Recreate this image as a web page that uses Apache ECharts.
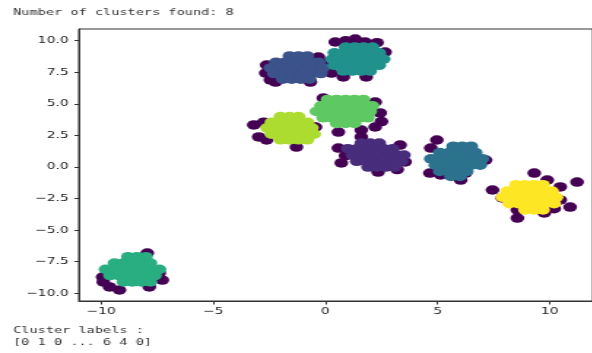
<!DOCTYPE html>
<html>
<head>
<meta charset="utf-8">
<script src="https://cdn.jsdelivr.net/npm/echarts@6/dist/echarts.min.js"></script>
<style>
  html, body { margin: 0; padding: 0; background: #fff; overflow: hidden; }
  /* the reference figure is stretched sideways, so draw narrow and widen */
  #chart { width: 406px; height: 353px; transform: scaleX(1.46); transform-origin: 0 0; }
</style>
</head>
<body>
<div id="chart"></div>
<script>
const xTicks = [-10, -5, 0, 5, 10];
const yTicks = [-10, -7.5, -5, -2.5, 0, 2.5, 5, 7.5, 10];

const titleText = 'Number of clusters found: 8';
const footerLines = ['Cluster labels :', '[0 1 0 ... 6 4 0]'];

// cluster members
const clusterA = [
  [1.6, 1.9], [2.0, 1.9], [2.4, 1.9],
  [1.0, 1.45], [1.4, 1.45], [1.8, 1.45], [2.2, 1.45], [2.6, 1.45], [3.0, 1.45],
  [1.2, 0.95], [1.6, 0.95], [2.0, 0.95], [2.4, 0.95], [2.8, 0.95], [3.2, 0.95], [3.5, 0.95],
  [1.4, 0.45], [1.8, 0.45], [2.2, 0.45], [2.6, 0.45], [3.0, 0.45], [3.4, 0.45],
  [1.9, 0.0], [2.3, 0.0], [2.7, 0.0], [3.1, 0.0]
];
const clusterB = [
  [-1.6, 8.8], [-1.2, 8.8], [-0.8, 8.8],
  [-2.2, 8.3], [-1.8, 8.3], [-1.4, 8.3], [-1.0, 8.3], [-0.6, 8.3], [-0.3, 8.3],
  [-2.45, 7.85], [-2.0, 7.85], [-1.6, 7.85], [-1.2, 7.85], [-0.8, 7.85], [-0.4, 7.85], [-0.1, 7.85],
  [-2.3, 7.4], [-1.8, 7.4], [-1.4, 7.4], [-1.0, 7.4], [-0.6, 7.4], [-0.2, 7.4],
  [-1.9, 6.95], [-1.5, 6.95], [-1.1, 6.95], [-0.7, 6.95]
];
const clusterC = [
  [5.7, 1.65], [6.1, 1.65], [6.5, 1.65],
  [5.1, 1.15], [5.5, 1.15], [5.9, 1.15], [6.3, 1.15], [6.7, 1.15],
  [4.7, 0.65], [5.1, 0.65], [5.5, 0.65], [5.9, 0.65], [6.3, 0.65], [6.7, 0.65], [7.0, 0.65],
  [4.9, 0.15], [5.3, 0.15], [5.7, 0.15], [6.1, 0.15], [6.5, 0.15], [6.9, 0.15],
  [5.1, -0.35], [5.5, -0.35], [5.9, -0.35], [6.3, -0.35],
  [5.6, -0.75], [6.0, -0.75]
];
const clusterD = [
  [0.9, 9.5], [1.3, 9.5], [1.7, 9.5], [2.1, 9.5],
  [0.4, 9.05], [0.8, 9.05], [1.2, 9.05], [1.6, 9.05], [2.0, 9.05], [2.4, 9.05],
  [0.3, 8.55], [0.6, 8.55], [1.0, 8.55], [1.4, 8.55], [1.8, 8.55], [2.2, 8.55], [2.6, 8.55],
  [0.4, 8.05], [0.8, 8.05], [1.2, 8.05], [1.6, 8.05], [2.0, 8.05], [2.4, 8.05],
  [0.8, 7.6], [1.2, 7.6], [1.6, 7.6], [2.0, 7.6]
];
const clusterE = [
  [-8.8, -7.1], [-8.4, -7.1], [-8.0, -7.1],
  [-9.4, -7.6], [-9.0, -7.6], [-8.6, -7.6], [-8.2, -7.6], [-7.8, -7.6],
  [-9.8, -8.1], [-9.4, -8.1], [-9.0, -8.1], [-8.6, -8.1], [-8.2, -8.1], [-7.8, -8.1], [-7.4, -8.1],
  [-9.6, -8.6], [-9.2, -8.6], [-8.8, -8.6], [-8.4, -8.6], [-8.0, -8.6], [-7.6, -8.6],
  [-9.0, -9.1], [-8.6, -9.1], [-8.2, -9.1], [-7.8, -9.1]
];
const clusterF = [
  [0.1, 5.35], [0.5, 5.35], [0.9, 5.35], [1.3, 5.35], [1.7, 5.35],
  [-0.2, 4.85], [0.2, 4.85], [0.6, 4.85], [1.0, 4.85], [1.4, 4.85], [1.8, 4.85], [2.1, 4.85],
  [-0.4, 4.4], [0.0, 4.4], [0.4, 4.4], [0.8, 4.4], [1.2, 4.4], [1.6, 4.4], [2.0, 4.4],
  [-0.1, 3.9], [0.3, 3.9], [0.7, 3.9], [1.1, 3.9], [1.5, 3.9], [1.9, 3.9],
  [0.5, 3.45], [0.9, 3.45], [1.3, 3.45]
];
const clusterG = [
  [-2.0, 4.0], [-1.6, 4.0], [-1.2, 4.0],
  [-2.4, 3.55], [-2.0, 3.55], [-1.6, 3.55], [-1.2, 3.55], [-0.8, 3.55],
  [-2.6, 3.1], [-2.2, 3.1], [-1.8, 3.1], [-1.4, 3.1], [-1.0, 3.1], [-0.6, 3.1],
  [-2.4, 2.6], [-2.0, 2.6], [-1.6, 2.6], [-1.2, 2.6], [-0.8, 2.6], [-0.5, 2.6],
  [-2.0, 2.15], [-1.6, 2.15], [-1.2, 2.15], [-0.8, 2.15]
];
const clusterH = [
  [8.5, -1.4], [8.9, -1.4], [9.3, -1.4], [9.7, -1.4],
  [8.1, -1.9], [8.5, -1.9], [8.9, -1.9], [9.3, -1.9], [9.7, -1.9], [10.1, -1.9],
  [7.9, -2.4], [8.3, -2.4], [8.7, -2.4], [9.1, -2.4], [9.5, -2.4], [9.9, -2.4], [10.3, -2.4],
  [8.2, -2.9], [8.6, -2.9], [9.0, -2.9], [9.4, -2.9], [9.8, -2.9], [10.2, -2.9],
  [8.9, -3.4], [9.3, -3.4], [9.7, -3.4]
];

// points labelled -1 (noise)
const noisePoints = [
  [-2.62, 8.08], [-2.66, 7.44], [-2.22, 6.73], [-0.67, 6.73], [-0.31, 8.71], [0.0, 8.23], [-2.45, 6.9],
  [0.44, 9.9], [1.33, 10.13], [1.77, 9.9], [2.66, 9.1], [0.27, 7.44], [0.8, 7.13], [1.82, 7.13], [0.9, 10.0], [2.3, 9.85],
  [-0.09, 5.46], [2.22, 5.15], [2.44, 4.28], [2.22, 3.17], [1.6, 2.93], [0.58, 2.77], [-0.44, 3.17], [2.5, 3.6],
  [-3.19, 3.33], [-2.97, 2.38], [-2.62, 2.14], [-1.29, 1.58], [-0.53, 3.17], [-2.75, 3.55],
  [0.58, 1.5], [0.71, 0.32], [2.35, -0.4], [3.33, 1.74], [1.6, 2.38], [3.55, 0.4], [0.9, 0.9], [3.2, -0.2],
  [4.97, 2.14], [4.7, 1.5], [4.66, -0.48], [5.14, -0.63], [6.25, -0.48], [6.03, -1.03], [7.14, 0.55],
  [7.45, -1.82], [7.89, -2.45], [9.31, -0.48], [9.89, -1.03], [10.47, -1.58], [11.22, -1.19],
  [10.47, -2.61], [10.91, -3.17], [8.56, -3.4], [8.56, -4.04], [9.76, -3.64], [10.2, -3.3],
  [-7.94, -6.81], [-9.93, -8.71], [-9.62, -9.5], [-9.18, -9.74], [-7.85, -9.5], [-7.27, -8.95], [-7.41, -8.39], [-9.9, -9.1]
];

const clusterColors = ['#472d7b', '#3b528b', '#2c728e', '#21918c', '#28ae80', '#5ec962', '#addc30', '#fde725'];
const noiseColor = '#440154';

const minus = (s) => String(s).replace('-', '\u2212');

const chart = echarts.init(document.getElementById('chart'));

const clusters = [clusterA, clusterB, clusterC, clusterD, clusterE, clusterF, clusterG, clusterH];
const series = [{
  type: 'scatter',
  data: noisePoints,
  symbolSize: 9.5,
  itemStyle: { color: noiseColor, opacity: 1 },
  emphasis: { disabled: true },
  silent: true
}];
clusters.forEach((pts, i) => {
  series.push({
    type: 'scatter',
    data: pts,
    symbolSize: 9.5,
    itemStyle: { color: clusterColors[i], opacity: 1 },
    emphasis: { disabled: true },
    silent: true
  });
});

const axisColor = '#333';
const labelFont = { fontFamily: 'DejaVu Sans', fontSize: 9.5, color: '#222' };

const option = {
  animation: false,
  grid: {
    left: 54, top: 29, width: 354, height: 272,
    show: true, borderColor: axisColor, borderWidth: 1, backgroundColor: 'transparent'
  },
  xAxis: {
    type: 'value',
    min: -10.99, max: 11.92,
    axisLine: { show: true, onZero: false, lineStyle: { color: axisColor, width: 1 } },
    axisTick: { show: true, length: 3.5, customValues: xTicks, lineStyle: { color: axisColor } },
    axisLabel: Object.assign({ customValues: xTicks, margin: 6, formatter: (v) => minus(v) }, labelFont),
    splitLine: { show: false }
  },
  yAxis: {
    type: 'value',
    min: -10.61, max: 10.93,
    axisLine: { show: true, onZero: false, lineStyle: { color: axisColor, width: 1 } },
    axisTick: { show: true, length: 3, customValues: yTicks, lineStyle: { color: axisColor } },
    axisLabel: Object.assign({ customValues: yTicks, margin: 7, formatter: (v) => minus(v.toFixed(1)) }, labelFont),
    splitLine: { show: false }
  },
  graphic: [
    { type: 'text', left: 9, top: 8, style: { text: titleText, font: '9.3px "DejaVu Sans Mono"', fill: '#333' } },
    { type: 'text', left: 9, top: 326, style: { text: footerLines[0], font: '9.3px "DejaVu Sans Mono"', fill: '#333' } },
    { type: 'text', left: 9, top: 338, style: { text: footerLines[1], font: '9.3px "DejaVu Sans Mono"', fill: '#333' } }
  ],
  series: series
};

chart.setOption(option);
</script>
</body>
</html>
